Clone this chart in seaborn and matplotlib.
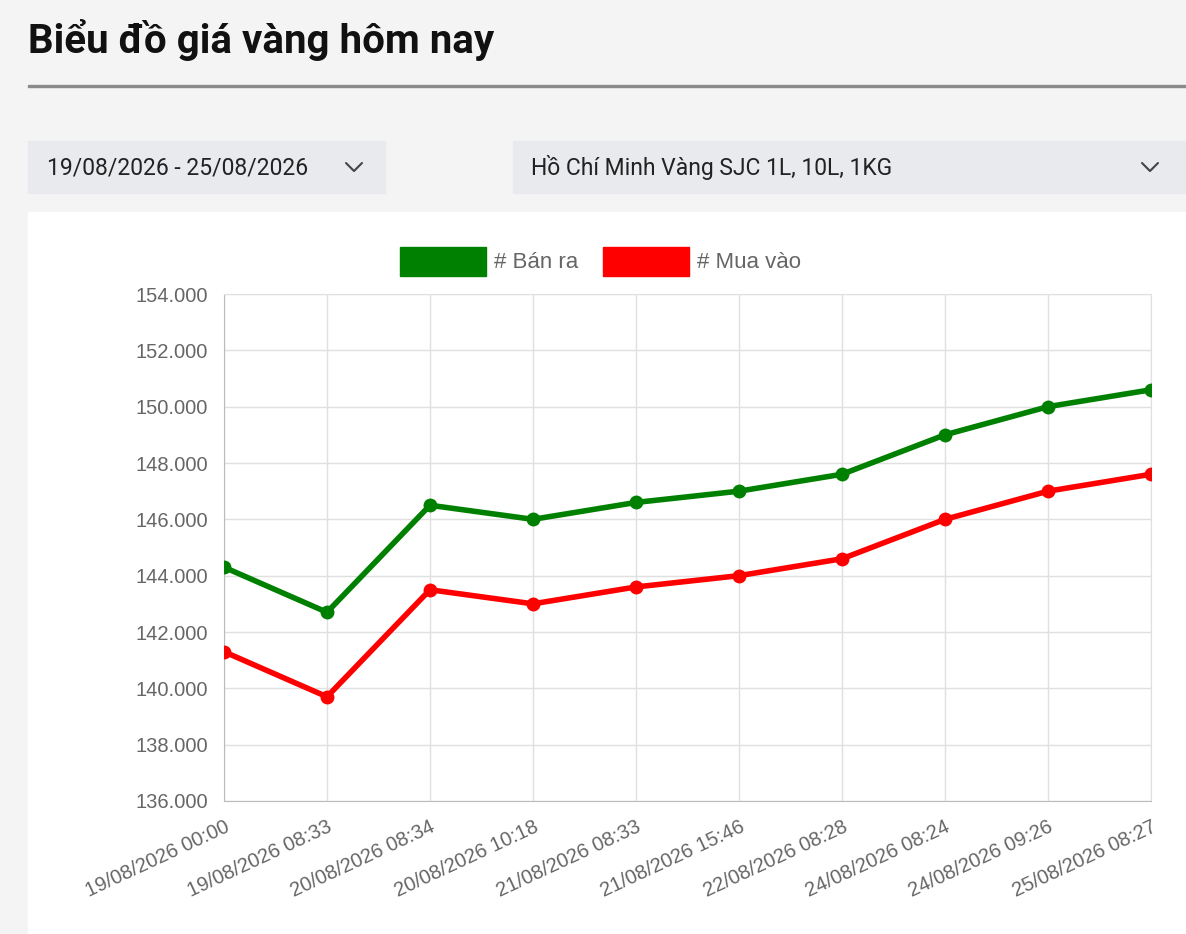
import matplotlib
matplotlib.use("Agg")
import matplotlib.pyplot as plt
from matplotlib.patches import Rectangle
import pandas as pd
import seaborn as sns

times = [
    "19/08/2026 00:00", "19/08/2026 08:33", "20/08/2026 08:34", "20/08/2026 10:18",
    "21/08/2026 08:33", "21/08/2026 15:46", "22/08/2026 08:28", "24/08/2026 08:24",
    "24/08/2026 09:26", "25/08/2026 08:27",
]
ban_ra = [144.3, 142.7, 146.5, 146.0, 146.6, 147.0, 147.6, 149.0, 150.0, 150.6]
mua_vao = [141.3, 139.7, 143.5, 143.0, 143.6, 144.0, 144.6, 146.0, 147.0, 147.6]
y_ticks = [136, 138, 140, 142, 144, 146, 148, 150, 152, 154]

df = pd.DataFrame({
    "idx": list(range(len(times))) * 2,
    "gia": ban_ra + mua_vao,
    "loai": ["# Bán ra"] * len(times) + ["# Mua vào"] * len(times),
})

sns.set_style("white")
plt.rcParams["font.family"] = ["Liberation Sans", "DejaVu Sans"]

W, H = 1186, 934
fig = plt.figure(figsize=(W / 100, H / 100), dpi=100)
fig.patch.set_facecolor("#f4f4f4")

def px_rect(x0, y0, x1, y1, color):
    fig.patches.append(Rectangle((x0 / W, 1 - y1 / H), (x1 - x0) / W, (y1 - y0) / H,
                                 transform=fig.transFigure, color=color, zorder=-5))

# page elements
px_rect(28, 212, 1186, 934, "white")
px_rect(28, 85, 1186, 87, "#8a8a8a")
px_rect(28, 141, 385, 193, "#e9eaee")
px_rect(513, 141, 1186, 193, "#e9eaee")
fig.text(28 / W, 1 - 40 / H, "Biểu đồ giá vàng hôm nay", fontsize=29, fontweight="bold",
         family=["Roboto", "DejaVu Sans"], va="center", color="#111")
fig.text(47 / W, 1 - 168 / H, "19/08/2026 - 25/08/2026", fontsize=16.5,
         family=["Roboto", "DejaVu Sans"], va="center", color="#222")
fig.text(531 / W, 1 - 168 / H, "Hồ Chí Minh Vàng SJC 1L, 10L, 1KG", fontsize=16.5,
         family=["Roboto", "DejaVu Sans"], va="center", color="#222")
for cx in (354, 1150):
    fig.lines.append(plt.Line2D([(cx - 8) / W, cx / W, (cx + 8) / W],
                                [1 - 163 / H, 1 - 171 / H, 1 - 163 / H],
                                transform=fig.transFigure, color="#444", lw=1.5))

# legend
px_rect(400, 247, 486, 276, "green")
px_rect(603, 247, 689, 276, "red")
fig.text(494 / W, 1 - 262 / H, "# Bán ra", fontsize=16, va="center", color="#666")
fig.text(697 / W, 1 - 262 / H, "# Mua vào", fontsize=16, va="center", color="#666")

ax = fig.add_axes([224 / W, 1 - 801 / H, 927 / W, 507 / H])
ax.set_zorder(5)
ax.set_facecolor("white")
sns.lineplot(data=df, x="idx", y="gia", hue="loai", palette=["green", "red"],
             marker="o", markersize=10, markeredgewidth=0, linewidth=4,
             legend=False, ax=ax, zorder=3)
ax.set_xlim(0, len(times) - 1)
ax.set_ylim(136, 154)
ax.set_yticks(y_ticks)
ax.set_yticklabels([f"{v:.3f}" for v in y_ticks])
ax.set_xticks(range(len(times)))
ax.set_xticklabels(times, rotation=25, ha="right", rotation_mode="anchor")
ax.tick_params(colors="#666", labelsize=14.5, length=8, color="#ddd")
ax.grid(True, color="#e0e0e0", lw=1)
ax.set_xlabel("")
ax.set_ylabel("")
for s in ax.spines.values():
    s.set_color("#e0e0e0")
ax.spines["left"].set_color("#bbb")
ax.spines["bottom"].set_color("#bbb")

fig.savefig("out.png", dpi=100, facecolor=fig.get_facecolor())
